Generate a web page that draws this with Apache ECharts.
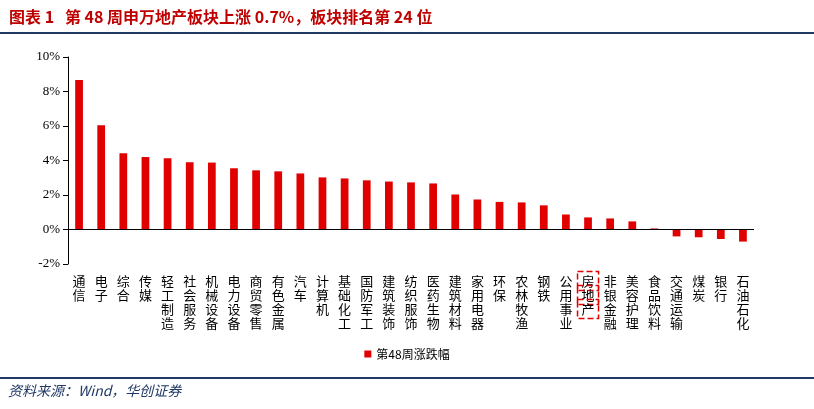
<!DOCTYPE html>
<html>
<head>
<meta charset="UTF-8" />
<script src="https://cdn.jsdelivr.net/npm/echarts@6/dist/echarts.min.js"></script>
<style>body{margin:0}</style>
</head>
<body>
<div id="main" style="width:814px;height:409px"></div>
<script>
const categories = ['通信','电子','综合','传媒','轻工制造','社会服务','机械设备','电力设备','商贸零售','有色金属','汽车','计算机','基础化工','国防军工','建筑装饰','纺织服饰','医药生物','建筑材料','家用电器','环保','农林牧渔','钢铁','公用事业','房地产','非银金融','美容护理','食品饮料','交通运输','煤炭','银行','石油石化']
const values = [8.66,6.05,4.42,4.2,4.13,3.9,3.88,3.55,3.43,3.37,3.25,3.02,2.96,2.85,2.78,2.73,2.67,2.03,1.74,1.6,1.57,1.4,0.87,0.7,0.64,0.47,0.06,-0.4,-0.45,-0.55,-0.7]
const highlight = '房地产'
const font = '"Noto Sans CJK SC", serif'

const chart = echarts.init(document.getElementById('main'))
chart.setOption({
  animation: false,
  title: {
    text: '图表 1   第 48 周申万地产板块上涨 0.7%，板块排名第 24 位',
    left: 4, top: 4,
    textStyle: { color: '#c00000', fontSize: 16, fontWeight: 'bold', fontFamily: font }
  },
  graphic: [
    { type: 'line', shape: { x1: 0, y1: 33, x2: 814, y2: 33 }, style: { stroke: '#1f3864', lineWidth: 2 } },
    { type: 'line', shape: { x1: 0, y1: 378, x2: 814, y2: 378 }, style: { stroke: '#1f3864', lineWidth: 2 } },
    { type: 'text', left: 8, top: 384, style: { text: '资料来源：Wind，华创证券', fill: '#1f3864', font: 'italic 14px ' + font } }
  ],
  legend: {
    bottom: 44, left: 'center', itemWidth: 7, itemHeight: 7, icon: 'rect',
    textStyle: { fontSize: 12, fontFamily: font, color: '#000' }
  },
  grid: { left: 68, right: 60, top: 57, bottom: 145 },
  xAxis: {
    type: 'category', data: categories,
    axisLine: { onZero: false, show: false },
    axisTick: { show: false },
    axisLabel: {
      interval: 0, margin: 10, lineHeight: 14, fontSize: 13, fontFamily: font, color: '#000',
      formatter: v => v === highlight ? '{h|' + v.split('').join('\n') + '}' : v.split('').join('\n'),
      rich: { h: { borderColor: '#e00000', borderType: 'dashed', borderWidth: 1.5, padding: [3, 4, 3, 4], lineHeight: 14, fontSize: 13, fontFamily: font } }
    }
  },
  yAxis: {
    type: 'value', min: -2, max: 10, interval: 2,
    axisLine: { show: true, lineStyle: { color: '#000' } },
    axisTick: { show: true, inside: false, lineStyle: { color: '#000' } },
    splitLine: { show: false },
    axisLabel: { formatter: '{value}%', fontSize: 13, fontFamily: 'Liberation Serif', color: '#000' }
  },
  series: [{
    name: '第48周涨跌幅', type: 'bar', data: values, barWidth: '35%',
    itemStyle: { color: '#e00000' },
    markLine: { silent: true, symbol: 'none', label: { show: false }, lineStyle: { color: '#000', type: 'solid', width: 1 }, data: [{ yAxis: 0 }] }
  }]
})
</script>
</body>
</html>
